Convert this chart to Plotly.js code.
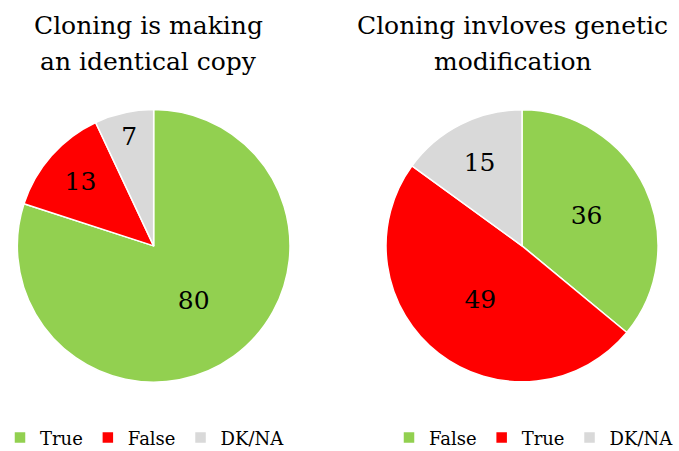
<!DOCTYPE html>
<html>
<head>
<meta charset="utf-8">
<script src="https://cdn.plot.ly/plotly-3.0.1.min.js"></script>
<style>html,body{margin:0;padding:0;background:#fff;}#chart{width:679px;height:451px;}</style>
</head>
<body>
<div id="chart"></div>
<script>
const leftTitleLines = ["Cloning is making", "an identical copy"];
const leftLabels = ["True", "False", "DK/NA"];
const leftValues = [80, 13, 7];
const rightTitleLines = ["Cloning invloves genetic", "modification"];
const rightLabels = ["False", "True", "DK/NA"];
const rightValues = [36, 49, 15];
const sliceColors = ["#92D050", "#FF0000", "#D9D9D9"];

const FONT = "DejaVu Serif, Georgia, serif";

function pieTrace(labels, values, domainX, legendId, group) {
  return {
    type: "pie",
    labels: labels,
    values: values,
    sort: false,
    direction: "clockwise",
    rotation: 0,
    domain: {x: domainX, y: [0.1486, 0.7612]},
    marker: {colors: sliceColors, line: {color: "#ffffff", width: 1.5}},
    textinfo: "value",
    textposition: "inside",
    insidetextorientation: "horizontal",
    textfont: {family: FONT, size: 25, color: "#000000"},
    hoverinfo: "label+value",
    legend: legendId,
    legendgroup: group,
    showlegend: true
  };
}

const data = [
  pieTrace(leftLabels, leftValues, [0.0255, 0.4271], "legend", "left"),
  pieTrace(rightLabels, rightValues, [0.5685, 0.9691], "legend2", "right")
];

const legendCommon = {
  orientation: "h",
  font: {family: FONT, size: 18, color: "#000000"},
  bgcolor: "rgba(0,0,0,0)",
  borderwidth: 0,
  yanchor: "middle",
  traceorder: "normal"
};

function titleAnn(text, x, y) {
  return {text: text, xref: "paper", yref: "paper", x: x, y: y, xanchor: "center", yanchor: "bottom",
          showarrow: false, font: {family: FONT, size: 25, color: "#000000"}, align: "center"};
}

const layout = {
  width: 679,
  height: 451,
  margin: {l: 0, r: 0, t: 0, b: 0, autoexpand: false},
  paper_bgcolor: "#ffffff",
  plot_bgcolor: "#ffffff",
  font: {family: FONT, color: "#000000"},
  legend: Object.assign({}, legendCommon, {x: 0.0, xanchor: "left", y: 0.029}),
  legend2: Object.assign({}, legendCommon, {x: 1.0, xanchor: "right", y: 0.029}),
  annotations: [
    titleAnn(leftTitleLines[0], 0.218, 0.906),
    titleAnn(leftTitleLines[1], 0.218, 0.828),
    titleAnn(rightTitleLines[0], 0.7555, 0.906),
    titleAnn(rightTitleLines[1], 0.7555, 0.828)
  ]
};

Plotly.newPlot("chart", data, layout, {displayModeBar: false, staticPlot: true});
</script>
</body>
</html>
